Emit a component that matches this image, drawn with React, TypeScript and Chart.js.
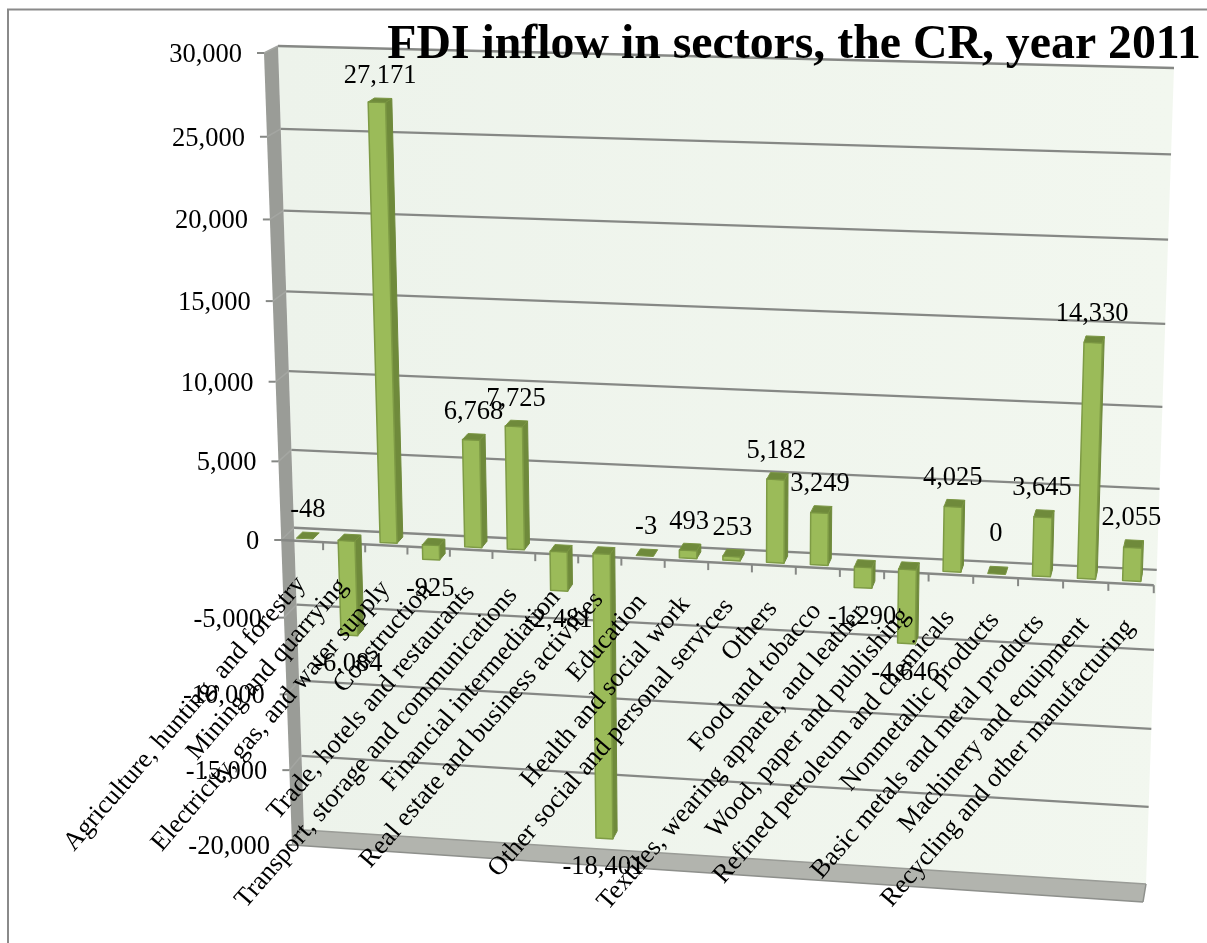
import { useEffect, useRef } from "react";
import { Chart, registerables } from "chart.js";

Chart.register(...registerables);

const chartTitle = "FDI inflow in sectors, the CR, year 2011";

const categories = [
  "Agriculture, hunting, and forestry",
  "Mining and quarrying",
  "Electricity, gas, and water supply",
  "Construction",
  "Trade, hotels and restaurants",
  "Transport, storage and communications",
  "Financial intermediation",
  "Real estate and business activities",
  "Education",
  "Health and social work",
  "Other social and personal services",
  "Others",
  "Food and tobacco",
  "Textiles, wearing apparel, and leather",
  "Wood, paper and publishing",
  "Refined petroleum and chemicals",
  "Nonmetallic products",
  "Basic metals and metal products",
  "Machinery and equipment",
  "Recycling and other manufacturing",
];

const fdiInflow = [
  -48, -6084, 27171, -925, 6768, 7725, -2481, -18401, -3, 493, 253, 5182, 3249,
  -1290, -4646, 4025, 0, 3645, 14330, 2055,
];

const axisMin = -20000;
const axisMax = 30000;
const axisStep = 5000;

type Pt = [number, number];
type Quad = [Pt, Pt, Pt, Pt];

// Corners of the box's back wall and of its front face: top-left, top-right, bottom-right, bottom-left.
const backQuad: Quad = [[278, 46], [1174, 68], [1146, 884], [304, 830]];
const frontQuad: Quad = [[264, 53], [1171, 78], [1143, 902], [292, 845]];

// Bars occupy this slice of the box depth (0 = back wall, 1 = front face).
const barDepthFront = 0.8;
const barDepthBack = 0.3;

const SERIF = '"Liberation Serif", "Times New Roman", serif';
const GRID = "#868885";

function perspective(q: Quad) {
  const [[x0, y0], [x1, y1], [x2, y2], [x3, y3]] = q;
  const dx1 = x1 - x2, dx2 = x3 - x2, sx = x0 - x1 + x2 - x3;
  const dy1 = y1 - y2, dy2 = y3 - y2, sy = y0 - y1 + y2 - y3;
  const det = dx1 * dy2 - dx2 * dy1;
  const g = (sx * dy2 - dx2 * sy) / det;
  const h = (dx1 * sy - sx * dy1) / det;
  const a = x1 - x0 + g * x1, b = x3 - x0 + h * x3;
  const d = y1 - y0 + g * y1, e = y3 - y0 + h * y3;
  return (u: number, v: number): Pt => {
    const w = g * u + h * v + 1;
    return [(a * u + b * v + x0) / w, (d * u + e * v + y0) / w];
  };
}

const projectBack = perspective(backQuad);
const projectFront = perspective(frontQuad);

// Position in the box: u across the categories, v down the value axis, depth front to back.
function project(u: number, v: number, depth: number): Pt {
  const p = projectBack(u, v);
  const q = projectFront(u, v);
  return [p[0] + (q[0] - p[0]) * depth, p[1] + (q[1] - p[1]) * depth];
}

function poly(ctx: CanvasRenderingContext2D, pts: Pt[], fill?: string, stroke?: string, lw = 1) {
  ctx.beginPath();
  pts.forEach((p, i) => (i ? ctx.lineTo(p[0], p[1]) : ctx.moveTo(p[0], p[1])));
  ctx.closePath();
  if (fill) {
    ctx.fillStyle = fill;
    ctx.fill();
  }
  if (stroke) {
    ctx.strokeStyle = stroke;
    ctx.lineWidth = lw;
    ctx.lineJoin = "round";
    ctx.stroke();
  }
}

function segment(ctx: CanvasRenderingContext2D, a: Pt, b: Pt, color: string, lw: number) {
  ctx.beginPath();
  ctx.moveTo(a[0], a[1]);
  ctx.lineTo(b[0], b[1]);
  ctx.strokeStyle = color;
  ctx.lineWidth = lw;
  ctx.stroke();
}

// Draws the walls, grid and axis furniture behind the bars.
const boxPlugin = {
  id: "box",
  beforeDatasetsDraw(chart: any) {
    const { ctx, chartArea: area } = chart;
    const yScale = chart.scales.y;
    ctx.save();

    // Chart frame
    ctx.strokeStyle = "#8a8a8a";
    ctx.lineWidth = 2;
    ctx.beginPath();
    ctx.moveTo(8, 943);
    ctx.lineTo(8, 9.5);
    ctx.lineTo(1207, 9.5);
    ctx.stroke();

    const wallFill = ctx.createLinearGradient(280, 0, 1170, 0);
    wallFill.addColorStop(0, "#edf3eb");
    wallFill.addColorStop(1, "#f2f7ef");
    poly(ctx, backQuad as unknown as Pt[], wallFill as any);

    poly(ctx, [frontQuad[0], backQuad[0], backQuad[3], frontQuad[3]], "#9a9c97");
    poly(ctx, [backQuad[3], backQuad[2], frontQuad[2], frontQuad[3]], "#b2b4ae");
    segment(ctx, backQuad[3], backQuad[2], "#9a9c97", 1.5);
    segment(ctx, frontQuad[3], frontQuad[2], "#8e908c", 1.5);
    segment(ctx, frontQuad[2], backQuad[2], "#8e908c", 1.5);

    ctx.font = `26.5px ${SERIF}`;
    ctx.textAlign = "right";
    ctx.textBaseline = "middle";
    for (const tick of yScale.ticks) {
      const v = (yScale.getPixelForValue(tick.value) - area.top) / area.height;
      const b0 = project(0, v, 0);
      const f0 = project(0, v, 1);
      if (tick.value !== axisMin) {
        segment(ctx, b0, project(1, v, 0), GRID, 2.3);
        segment(ctx, f0, b0, "#a4a6a2", 1.5);
      }
      segment(ctx, [f0[0] - 7, f0[1]], f0, GRID, 2);
      ctx.fillStyle = "#000";
      ctx.fillText(tick.label, f0[0] - 22, f0[1] + 2);
    }

    // Category axis along the front edge of the zero plane
    const zeroV = (yScale.getPixelForValue(0) - area.top) / area.height;
    segment(ctx, project(0, zeroV, 1), project(1, zeroV, 1), GRID, 2.5);
    categories.forEach((_, i) => {
      const p = project((i + 1) / categories.length, zeroV, 1);
      segment(ctx, p, [p[0], p[1] + 8], GRID, 2);
    });
    ctx.restore();
  },
};

// Draws each bar the library laid out as a prism inside the box.
const prismPlugin = {
  id: "prism",
  beforeDatasetDraw(chart: any, args: any) {
    const { ctx, chartArea: area } = chart;
    const meta = args.meta;
    ctx.save();
    meta.data.forEach((bar: any) => {
      const half = bar.width / 2;
      const u0 = (bar.x - half - area.left) / area.width;
      const u1 = (bar.x + half - area.left) / area.width;
      const vHi = (Math.min(bar.y, bar.base) - area.top) / area.height;
      const vLo = (Math.max(bar.y, bar.base) - area.top) / area.height;

      const fTL = project(u0, vHi, barDepthFront);
      const fTR = project(u1, vHi, barDepthFront);
      const fBR = project(u1, vLo, barDepthFront);
      const fBL = project(u0, vLo, barDepthFront);
      const bTL = project(u0, vHi, barDepthBack);
      const bTR = project(u1, vHi, barDepthBack);
      const bBR = project(u1, vLo, barDepthBack);

      const flat = Math.abs(bar.y - bar.base) < 2;
      if (!flat) {
        poly(ctx, [fTR, bTR, bBR, fBR], "#6f8a3b", "#6f8a3b", 1);
        poly(ctx, [fTL, fTR, fBR, fBL], "#9bbb59", "#7e9b45", 1.5);
      }
      poly(ctx, [fTL, fTR, bTR, bTL], "#6f8a3b", "#7a9642", 1);
    });
    ctx.restore();
    return false;
  },
};

// Draws the value labels, the rotated category labels and the heading on top of everything.
const textPlugin = {
  id: "texts",
  afterDatasetsDraw(chart: any) {
    const { ctx, chartArea: area } = chart;
    const yScale = chart.scales.y;
    const meta = chart.getDatasetMeta(0);
    ctx.save();
    ctx.fillStyle = "#000";

    ctx.font = `26.5px ${SERIF}`;
    ctx.textAlign = "center";
    ctx.textBaseline = "middle";
    meta.data.forEach((bar: any, i: number) => {
      const value = fdiInflow[i];
      const u = (bar.x - area.left) / area.width;
      const vHi = (Math.min(bar.y, bar.base) - area.top) / area.height;
      const vLo = (Math.max(bar.y, bar.base) - area.top) / area.height;
      const text = value.toLocaleString("en-US");
      if (value < -100) {
        const p = project(u, vLo, barDepthFront);
        ctx.fillText(text, p[0] - 1, p[1] + 29);
      } else {
        const p = project(u, vHi, barDepthBack);
        ctx.fillText(text, p[0] - 3, p[1] + (value === 0 ? -33 : -22));
      }
    });

    const zeroV = (yScale.getPixelForValue(0) - area.top) / area.height;
    ctx.font = `26.3px ${SERIF}`;
    ctx.textAlign = "right";
    ctx.textBaseline = "middle";
    categories.forEach((label, i) => {
      const p = project((i + 0.5) / categories.length, zeroV, 1);
      ctx.save();
      ctx.translate(p[0] - 1, p[1] + 39);
      ctx.rotate((-49 * Math.PI) / 180);
      ctx.fillText(label, 0, 0);
      ctx.restore();
    });

    ctx.font = `bold 47.8px ${SERIF}`;
    ctx.textAlign = "right";
    ctx.textBaseline = "alphabetic";
    ctx.fillText(chartTitle, 1201, 58);
    ctx.restore();
  },
};

export default function App() {
  const canvasRef = useRef<HTMLCanvasElement>(null);

  useEffect(() => {
    const chart = new Chart(canvasRef.current as HTMLCanvasElement, {
      type: "bar",
      data: {
        labels: categories,
        datasets: [
          {
            label: "FDI inflow",
            data: fdiInflow,
            backgroundColor: "#9bbb59",
            categoryPercentage: 1,
            barPercentage: 0.4,
          },
        ],
      },
      options: {
        responsive: false,
        animation: false,
        events: [],
        layout: { padding: 0 },
        plugins: { legend: { display: false }, tooltip: { enabled: false } },
        scales: {
          x: { display: false, grid: { display: false } },
          y: {
            display: false,
            min: axisMin,
            max: axisMax,
            ticks: {
              stepSize: axisStep,
              callback: (value: any) => Number(value).toLocaleString("en-US"),
            },
          },
        },
      },
      plugins: [boxPlugin, prismPlugin, textPlugin],
    } as any);
    return () => chart.destroy();
  }, []);

  return (
    <div style={{ position: "absolute", left: 0, top: 0, width: 1207, height: 943, background: "#fff" }}>
      <canvas ref={canvasRef} width={1207} height={943} style={{ display: "block" }} />
    </div>
  );
}
